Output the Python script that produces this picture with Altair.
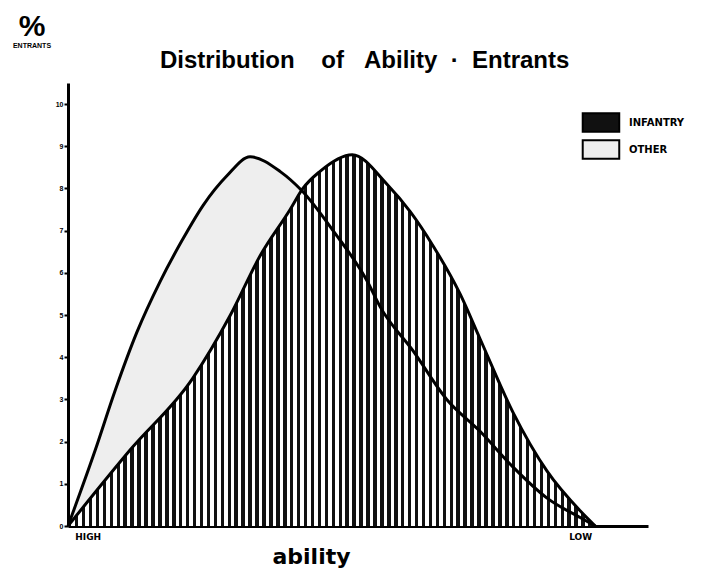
import altair as alt
import pandas as pd

# ---- data (ability: 0 = HIGH ... 100 = end of axis) ----
other_x = [0, 4.7, 8.1, 11.9, 15.9, 19.8, 23.3, 27.4, 31.4, 36.6, 40.3, 45.7, 51.6, 53.8, 59.5, 65.3, 71.0, 76.7, 82.6, 88.3, 90.9]
other_y = [0, 1.8, 3.2, 4.6, 5.8, 6.8, 7.6, 8.3, 8.75, 8.4, 7.95, 7.0, 5.8, 5.2, 4.15, 3.0, 2.25, 1.4, 0.66, 0.2, 0]
inf_x = [0, 10.7, 21.5, 28, 33.1, 38.3, 40.5, 43.4, 49, 55, 59, 62.9, 67.6, 71, 76.7, 82.6, 88.3, 90.9]
inf_y = [0, 1.8, 3.5, 5.0, 6.4, 7.5, 8.0, 8.4, 8.8, 8.1, 7.45, 6.65, 5.5, 4.45, 2.7, 1.3, 0.36, 0]
series = ["INFANTRY", "OTHER"]
y_ticks = list(range(0, 11))
x_label_pos = [3.4, 88.3]
x_labels = ["HIGH", "LOW"]
title_words = ["Distribution", "of", "Ability", "·", "Entrants"]
y_unit = ["%"]
y_unit_note = ["ENTRANTS"]

NB = "\u00a0"
title_text = (title_words[0] + NB * 4 + title_words[1] + NB * 3 + title_words[2]
              + NB * 2 + title_words[3] + NB * 2 + title_words[4])

other = pd.DataFrame({"ability": other_x, "pct": other_y, "series": "OTHER"})
inf = pd.DataFrame({"ability": inf_x, "pct": inf_y, "series": "INFANTRY"})
unit_df = pd.DataFrame({"t": y_unit})
note_df = pd.DataFrame({"t": y_unit_note})
title_df = pd.DataFrame({"t": [title_text]})

FONT = "Liberation Sans"
WIDE = "DejaVu Sans"

# vertical hatch as a hard-edged gradient (style only)
N = 76
stops = []
for i in range(N):
    a = i / N
    b = (i + 0.5) / N
    c = (i + 1) / N
    stops += [
        alt.GradientStop(offset=a, color="rgba(255,255,255,0)"),
        alt.GradientStop(offset=b, color="rgba(255,255,255,0)"),
        alt.GradientStop(offset=b, color="#ffffff"),
        alt.GradientStop(offset=c, color="#ffffff"),
    ]
hatch = alt.LinearGradient(gradient="linear", stops=stops, x1=0, x2=1, y1=0, y2=0)

label_expr = "datum.value < 50 ? '%s' : '%s'" % (x_labels[0], x_labels[1])

x_enc = alt.X(
    "ability:Q",
    scale=alt.Scale(domain=[0, 100], nice=False),
    axis=alt.Axis(
        values=x_label_pos, labelExpr=label_expr, ticks=False, grid=False,
        domainColor="black", domainWidth=3,
        labelFont=WIDE, labelFontSize=9, labelFontWeight="bold", labelColor="black",
        labelPadding=6,
        title="ability", titleFont=WIDE, titleFontSize=22, titleFontWeight="bold",
        titleColor="black", titleX=243, titleY=37, titleAlign="center",
        titleBaseline="alphabetic",
    ),
)
y_enc = alt.Y(
    "pct:Q",
    scale=alt.Scale(domain=[0, 10.5], nice=False),
    axis=alt.Axis(
        values=y_ticks, grid=False, tickSize=4, tickColor="black", tickWidth=2,
        domainColor="black", domainWidth=3,
        labelFont=FONT, labelFontSize=7, labelFontWeight="bold", labelColor="black",
        labelPadding=1, title=None,
    ),
)

fill_enc = alt.Fill(
    "series:N",
    scale=alt.Scale(domain=series, range=["#111111", "#eeeeee"]),
    legend=alt.Legend(
        title=None, orient="none", legendX=513, legendY=29,
        symbolType="M-0.95,-1H3V1H-0.95Z", symbolSize=342,
        symbolStrokeColor="black", symbolStrokeWidth=2, symbolOpacity=1,
        labelFont=WIDE, labelFontSize=10, labelFontWeight="bold", labelColor="black",
        labelOffset=27, rowPadding=6, clipHeight=21,
    ),
)

other_area = alt.Chart(other).mark_area(interpolate="monotone", opacity=1).encode(
    x=x_enc, y=y_enc, fill=fill_enc)
inf_area = alt.Chart(inf).mark_area(interpolate="monotone", opacity=1).encode(
    x=x_enc, y=y_enc, fill=fill_enc)
inf_hatch = alt.Chart(inf).mark_area(interpolate="monotone", fill=hatch).encode(
    x=x_enc, y=y_enc)
other_line = alt.Chart(other).mark_line(interpolate="monotone", color="black", strokeWidth=3).encode(
    x=x_enc, y=y_enc)
inf_line = alt.Chart(inf).mark_line(interpolate="monotone", color="black", strokeWidth=3).encode(
    x=x_enc, y=y_enc)
unit_text = alt.Chart(unit_df).mark_text(
    font=FONT, fontSize=30, fontWeight="bold", color="black", align="center", baseline="alphabetic"
).encode(text="t:N", x=alt.value(-36), y=alt.value(-47))
note_text = alt.Chart(note_df).mark_text(
    font=FONT, fontSize=7, fontWeight="bold", color="black", align="center", baseline="middle"
).encode(text="t:N", x=alt.value(-36), y=alt.value(-37))
title_mark = alt.Chart(title_df).mark_text(
    font=FONT, fontSize=24, fontWeight="bold", color="black", align="left", baseline="alphabetic"
).encode(text="t:N", x=alt.value(92), y=alt.value(-15))

chart = alt.layer(
    other_area, inf_area, inf_hatch, other_line, inf_line, unit_text, note_text, title_mark
).properties(
    width=580, height=443,
    autosize=alt.AutoSizeParams(type="none"),
    padding={"left": 60, "top": 75, "right": 60, "bottom": 43},
).configure_view(stroke=None)

chart.save("out.html", embed_options={"renderer": "svg", "actions": False})
